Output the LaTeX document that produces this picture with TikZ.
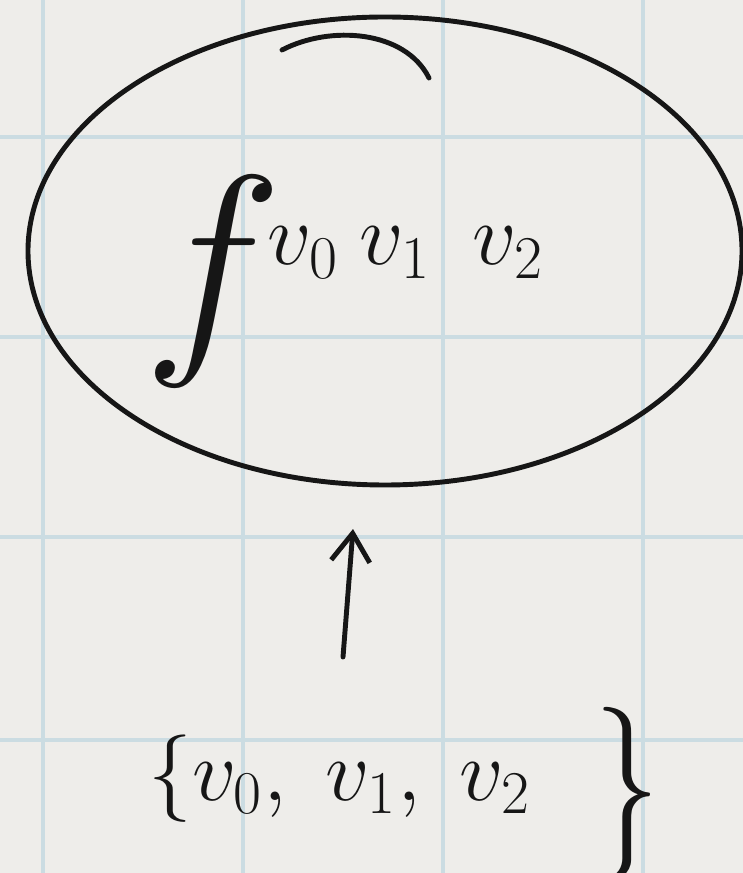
\documentclass[tikz,border=0pt]{standalone}
\usepackage{graphicx}
\usetikzlibrary{shapes.geometric,arrows.meta}
\definecolor{paper}{RGB}{238,237,234}
\definecolor{gridblue}{RGB}{203,220,226}
\definecolor{ink}{RGB}{22,22,22}
\begin{document}
\begin{tikzpicture}[x=1cm, y=-1cm, >={Straight Barb[length=8pt,width=11pt]},
  pen/.style={ink, line width=1.4pt, line cap=round},
  hand/.style={ink, inner sep=0pt, font=\fontsize{24}{24}\selectfont}]
  % squared paper
  \fill[paper] (0,0) rectangle (7.43,8.73);
  \useasboundingbox (0,0) rectangle (7.43,8.73);
  \foreach \gx in {0.43,2.43,4.43,6.43}
    \draw[gridblue, line width=1.3pt] (\gx,0) -- (\gx,8.73);
  \foreach \gy in {1.37,3.37,5.37,7.40}
    \draw[gridblue, line width=1.3pt] (0,\gy) -- (7.43,\gy);
  % the ellipse, pen overshoots at the top
  \node[pen, draw, ellipse, minimum width=7.14cm, minimum height=4.68cm]
    (blob) at (3.85,2.51) {};
  \draw[pen] (2.82,0.50) .. controls (3.3,0.25) and (4.05,0.30) .. (4.29,0.78);
  % f and its subscript
  \node[hand] (f) at (2.13,2.81) {\scalebox{2.7}{$f$}};
  \node[hand, anchor=base west] (fsub) at (2.67,2.65)
    {$v_0\hspace{6pt}v_1\hspace{12pt}v_2$};
  % the set below
  \node[hand, anchor=base west] (set) at (1.48,8.00)
    {$\{v_0,\; v_1,\; v_2$\hspace{18pt}\raisebox{-11pt}{\scalebox{1.5}[2.0]{$\}$}}};
  % arrow, not touching either
  \coordinate (tail) at (3.43,6.57);
  \coordinate (tip) at (3.53,5.29);
  \draw[pen, ->] (tail) -- (tip);
\end{tikzpicture}
\end{document}
